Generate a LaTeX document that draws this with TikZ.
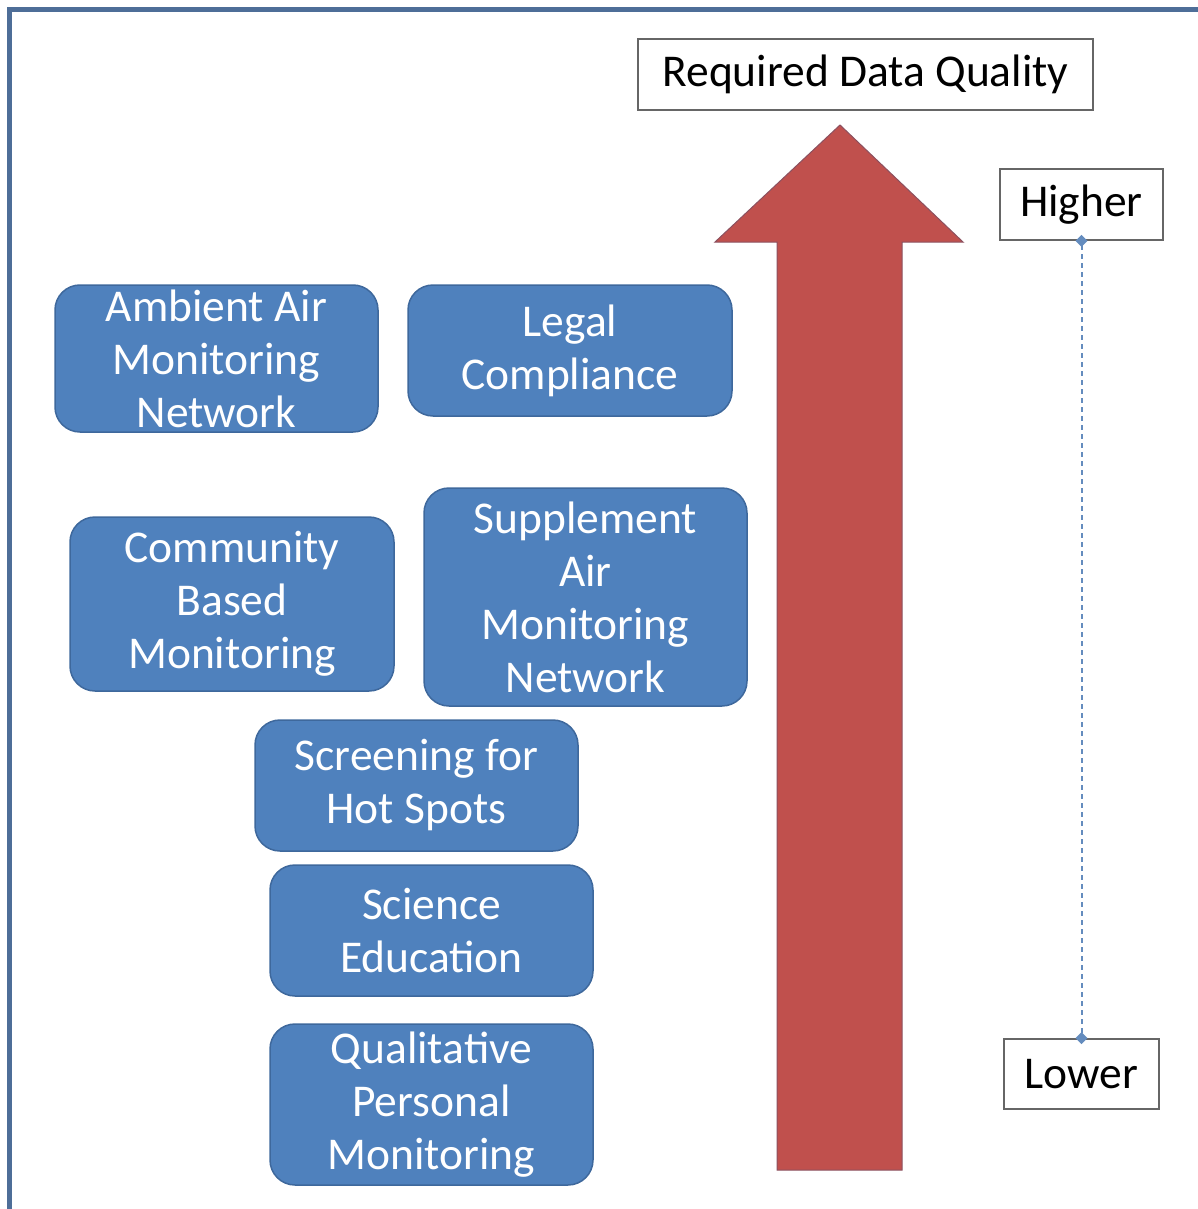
\documentclass[tikz,border=0pt]{standalone}
\usepackage{fontspec}
\setmainfont{Carlito}
\usetikzlibrary{arrows.meta}
\definecolor{boxblue}{RGB}{79,129,189}
\definecolor{boxedge}{RGB}{62,104,156}
\definecolor{framecol}{RGB}{78,110,152}
\definecolor{arrowred}{RGB}{192,80,77}
\definecolor{arrowedge}{RGB}{140,80,95}
\definecolor{dotcol}{RGB}{100,140,190}
\tikzset{
  bluebox/.style={rectangle, rounded corners=25pt, fill=boxblue, draw=boxedge, line width=1.5pt,
    text=white, align=center, inner sep=0pt, font=\fontsize{45.5}{53}\selectfont},
  labelbox/.style={rectangle, fill=white, draw=black!60, line width=1.8pt,
    text=black, align=center, inner sep=0pt, font=\fontsize{45.5}{53}\selectfont},
  scaleline/.style={draw=dotcol, line width=2pt, dash pattern=on 5pt off 4pt,
    {Diamond[length=12pt,width=12pt,fill=dotcol]}-{Diamond[length=12pt,width=12pt,fill=dotcol]},
    shorten <=-6pt, shorten >=-6pt}
}
\begin{document}
\begin{tikzpicture}[x=1pt,y=-1pt]
\useasboundingbox (0,0) rectangle (1198,1209);
% frame (top and left edges visible)
\draw[framecol, line width=5pt] (9.5,1209) -- (9.5,9.5) -- (1198,9.5);

% big arrow
\draw[fill=arrowred, draw=arrowedge, line width=1pt]
  (840,125) -- (963,242) -- (902,242) -- (902,1170) -- (777,1170) -- (777,242) -- (715,242) -- cycle;

% label boxes
\node[labelbox, minimum width=455pt, minimum height=71pt] (rdq) at (865.5,74.5) {Required Data Quality};
\node[labelbox, minimum width=163pt, minimum height=71pt] (higher) at (1081.5,204.5) {Higher};
\node[labelbox, minimum width=155pt, minimum height=70pt] (lower) at (1081.5,1074) {Lower};
\draw[scaleline] (higher.south) -- (lower.north);

% blue boxes
\node[bluebox, minimum width=323pt, minimum height=147pt] (amb) at (216.5,358.5) {Ambient Air\\Monitoring\\Network};
\node[bluebox, minimum width=324pt, minimum height=131pt] (legal) at (570,350.5) {Legal\\Compliance};
\node[bluebox, minimum width=324pt, minimum height=174pt] (comm) at (232,604) {Community\\Based\\Monitoring};
\node[bluebox, minimum width=323pt, minimum height=218pt] (supp) at (585.5,597) {Supplement\\Air\\Monitoring\\Network};
\node[bluebox, minimum width=323pt, minimum height=131pt] (screen) at (416.5,785.5) {Screening for\\Hot Spots};
\node[bluebox, minimum width=323pt, minimum height=131pt] (sci) at (431.5,930.5) {Science\\Education};
\node[bluebox, minimum width=323pt, minimum height=161pt] (qual) at (431.5,1104.5) {Qualitative\\Personal\\Monitoring};
\end{tikzpicture}
\end{document}
